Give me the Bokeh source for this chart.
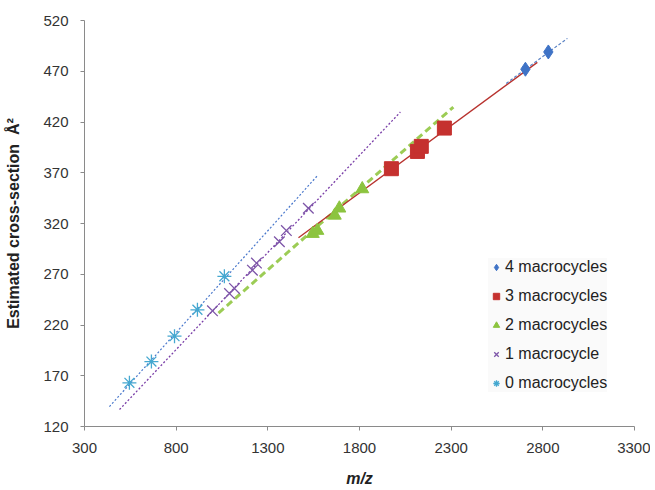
from bokeh.plotting import figure
from bokeh.models import Range1d, FixedTicker, Legend, LegendItem
from bokeh.embed import file_html
from bokeh.resources import INLINE

# ---- data ----
mz0 = [545, 665, 791, 916, 1063]
ccs0 = [163, 184, 209, 235, 268]

mz1 = [998, 1091, 1118, 1216, 1238, 1363, 1401, 1521]
ccs1 = [234, 251, 256, 274, 281, 302, 313, 335]

mz2 = [1545, 1570, 1665, 1690, 1815]
ccs2 = [310, 313, 328, 335, 354]

mz3 = [1974, 2116, 2137, 2263]
ccs3 = [374, 391, 396, 414]

mz4 = [2705, 2830]
ccs4 = [472, 489]

# trend-line end points (x0, x1), (y0, y1)
trend0_x = [436, 1570]; trend0_y = [139.6, 367]
trend1_x = [491, 2023]; trend1_y = [136.7, 429.8]
trend2_x = [1031, 2312]; trend2_y = [231.8, 434.7]
trend3_x = [1467, 2770]; trend3_y = [306, 478.8]
trend4_x = [2600, 2934]; trend4_y = [458, 502.4]

x_ticks = [300, 800, 1300, 1800, 2300, 2800, 3300]
y_ticks = [120, 170, 220, 270, 320, 370, 420, 470, 520]

labels = ["4 macrocycles", "3 macrocycles", "2 macrocycles", "1 macrocycle", "0 macrocycles"]

FONT = "Liberation Sans"

p = figure(width=650, height=489, output_backend="svg", toolbar_location=None,
           x_range=Range1d(300, 3300), y_range=Range1d(120, 520),
           min_border_left=84, min_border_right=16, min_border_top=20, min_border_bottom=61)
p.outline_line_color = None
p.grid.visible = False
p.background_fill_color = "white"

for ax in (p.xaxis[0], p.yaxis[0]):
    ax.axis_line_color = "#8a8a8a"
    ax.major_tick_line_color = "#8a8a8a"
    ax.minor_tick_line_color = None
    ax.major_tick_in = 0
    ax.major_tick_out = 4
    ax.major_label_text_font = FONT
    ax.major_label_text_font_size = "15px"
    ax.major_label_text_color = "#333333"
    ax.axis_label_text_font = FONT
    ax.axis_label_text_font_style = "bold"
    ax.axis_label_text_font_size = "16px"
    ax.axis_label_text_color = "#222222"

p.xaxis.ticker = FixedTicker(ticks=x_ticks)
p.yaxis.ticker = FixedTicker(ticks=y_ticks)
p.xaxis.axis_label = "m/z"
p.xaxis.axis_label_text_font_style = "bold italic"
p.xaxis.major_label_standoff = 12
p.xaxis.axis_label_standoff = 14
p.yaxis.axis_label = "Estimated cross-section \u00a0Å²"
p.yaxis.major_label_standoff = 12
p.yaxis.axis_label_standoff = 18

# trend lines
p.line(trend0_x, trend0_y, line_color="#4a78cc", line_width=1.2, line_dash="2 2")
p.line(trend1_x, trend1_y, line_color="#7a3fa8", line_width=1.3, line_dash="2 2")
p.line(trend2_x, trend2_y, line_color="#9ccc55", line_width=3, line_dash="7 4")
p.line(trend3_x, trend3_y, line_color="#b8322e", line_width=1.4)
p.line(trend4_x, trend4_y, line_color="#5a82c4", line_width=1.2, line_dash="3 2")

r4 = p.scatter(mz4, ccs4, marker="diamond", size=14, fill_color="#3f73c6", line_color="#3f73c6")
r3 = p.scatter(mz3, ccs3, marker="square", size=14, fill_color="#c5312f", line_color="#c5312f")
r2 = p.scatter(mz2, ccs2, marker="triangle", size=13, fill_color="#8cc43f", line_color="#8cc43f")
r1 = p.scatter(mz1, ccs1, marker="x", size=15, fill_color=None, line_color="#7d55a8", line_width=1.3)
r0 = p.scatter(mz0, ccs0, marker="asterisk", size=14, fill_color=None, line_color="#45a8d0", line_width=1.3)

legend = Legend(items=[LegendItem(label=l, renderers=[r]) for l, r in zip(labels, [r4, r3, r2, r1, r0])],
                location=(404, 34), glyph_width=16, glyph_height=18, label_height=18,
                spacing=11, padding=6, margin=0, label_standoff=1,
                label_text_font=FONT, label_text_font_size="16px", label_text_color="#222222",
                border_line_color=None, background_fill_color="#fafafa", background_fill_alpha=1)
p.add_layout(legend, "center")

open("out.html", "w").write(file_html(p, INLINE))
